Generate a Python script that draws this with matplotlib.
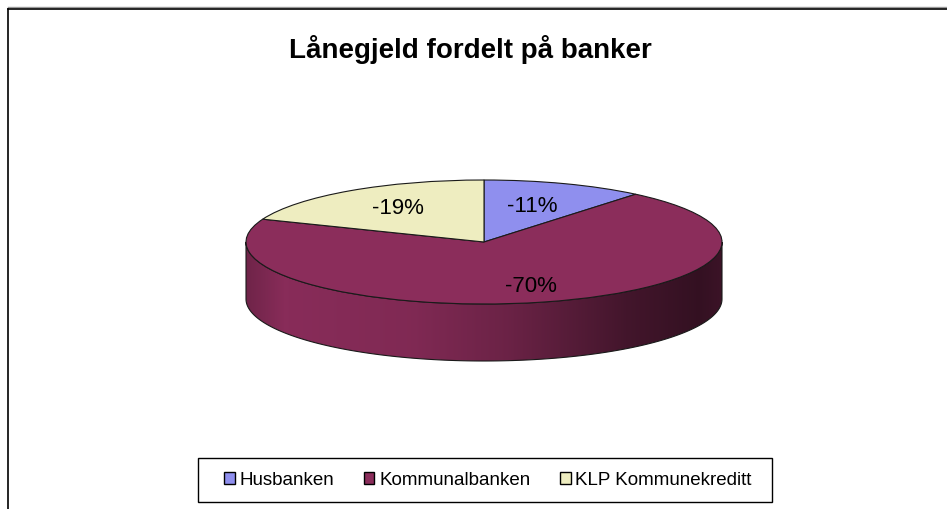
import numpy as np
import matplotlib
matplotlib.use("Agg")
import matplotlib.pyplot as plt
from matplotlib.patches import Polygon, Patch, Rectangle
from matplotlib.lines import Line2D
from matplotlib.colors import to_rgb

# ---- data ----
categories = ["Husbanken", "Kommunalbanken", "KLP Kommunekreditt"]
values = [11, 70, 19]
value_labels = ["-11%", "-70%", "-19%"]
colors = ["#8F8FEE", "#8B2D5B", "#EEEDC0"]
title = "Lånegjeld fordelt på banker"

plt.rcParams['font.family'] = ['Liberation Sans', 'DejaVu Sans']

W, H = 947, 510
fig = plt.figure(figsize=(W / 100, H / 100), dpi=100)
fig.patch.set_facecolor("white")

# pie geometry in pixels
cx, cy_top = 484, 243        # center from top
a_px, b_px = 238, 62          # ellipse semi-axes
depth_px = 57
cy = H - cy_top
d = depth_px / b_px           # depth in y data units

ax = fig.add_axes([0, 0, 1, 1])
xlim = (-cx / a_px, (W - cx) / a_px)
ylim = (-cy / b_px, (H - cy) / b_px)

wedges, _ = ax.pie(values, colors=colors, startangle=90, counterclock=False,
                   radius=1.0, center=(0, 0),
                   wedgeprops=dict(edgecolor="#1a1a1a", linewidth=0.8))
for w in wedges:
    w.set_zorder(5)

# side walls for the front part of each wedge
prof_x = [0.0, 0.08, 0.35, 0.55, 0.8, 0.95, 1.0]
prof_f = [0.80, 0.98, 0.92, 0.77, 0.48, 0.37, 0.43]
xs = np.linspace(-1, 1, 400)
fac = np.interp((xs + 1) / 2, prof_x, prof_f)
for w, col in zip(wedges, colors):
    th1, th2 = w.theta1, w.theta2
    segs = []
    for base in (-360, 0, 360):
        lo = max(th1, 180 + base)
        hi = min(th2, 360 + base)
        if hi > lo:
            segs.append((lo, hi))
    for lo, hi in segs:
        th = np.radians(np.linspace(lo, hi, 200))
        top = np.column_stack([np.cos(th), np.sin(th)])
        bot = np.column_stack([np.cos(th), np.sin(th) - d])[::-1]
        poly = Polygon(np.vstack([top, bot]), closed=True, facecolor="none",
                       edgecolor="#1a1a1a", linewidth=0.8, zorder=3)
        ax.add_patch(poly)
        rgb = np.array(to_rgb(col))
        img = (fac[:, None] * rgb[None, :])[None, :, :]
        im = ax.imshow(img, extent=[-1, 1, -1 - d, 0.2], aspect="auto",
                       interpolation="bilinear", zorder=2)
        clip = Polygon(np.vstack([top, bot]), closed=True, transform=ax.transData)
        im.set_clip_path(clip)

# labels
label_pos = {0: (0.60, 0.62), 1: (0.80, 0.72), 2: (0.64, 0.68)}
for i, (w, lab) in enumerate(zip(wedges, value_labels)):
    mid = np.radians((w.theta1 + w.theta2) / 2)
    rx, ry = label_pos[i]
    ax.text(rx * np.cos(mid), ry * np.sin(mid), lab, ha="center", va="center",
            fontsize=16, color="black", zorder=10)

ax.set_aspect("auto")
ax.set_xlim(*xlim)
ax.set_ylim(*ylim)
ax.set_axis_off()

# title
fig.text(470 / W, 1 - 50 / H, title, ha="center", va="center",
         fontsize=20, fontweight="bold")

# legend (frame drawn separately)
handles = [Patch(facecolor=c, edgecolor="black", linewidth=1.0) for c in colors]
leg = fig.legend(handles, categories, loc="center",
                 bbox_to_anchor=(488 / W, 1 - 481 / H), ncol=3,
                 frameon=False, fontsize=13.5, handlelength=0.55,
                 handleheight=0.55, handletextpad=0.25, columnspacing=1.6,
                 borderpad=0.3, borderaxespad=0)
fig.add_artist(Rectangle((198 / W, 1 - 503 / H), (772 - 198) / W, 44 / H,
                         transform=fig.transFigure, facecolor="none",
                         edgecolor="black", linewidth=1.0))

# chart border lines (top & left)
fig.add_artist(Line2D([8 / W, 1], [1 - 8 / H, 1 - 8 / H], color="#999999",
                      linewidth=1.0, transform=fig.transFigure))
fig.add_artist(Line2D([8 / W, 1], [1 - 9.5 / H, 1 - 9.5 / H], color="black",
                      linewidth=1.2, transform=fig.transFigure))
fig.add_artist(Line2D([8 / W, 8 / W], [0, 1 - 9.5 / H], color="black",
                      linewidth=1.2, transform=fig.transFigure))

fig.savefig("out.png", dpi=100)
